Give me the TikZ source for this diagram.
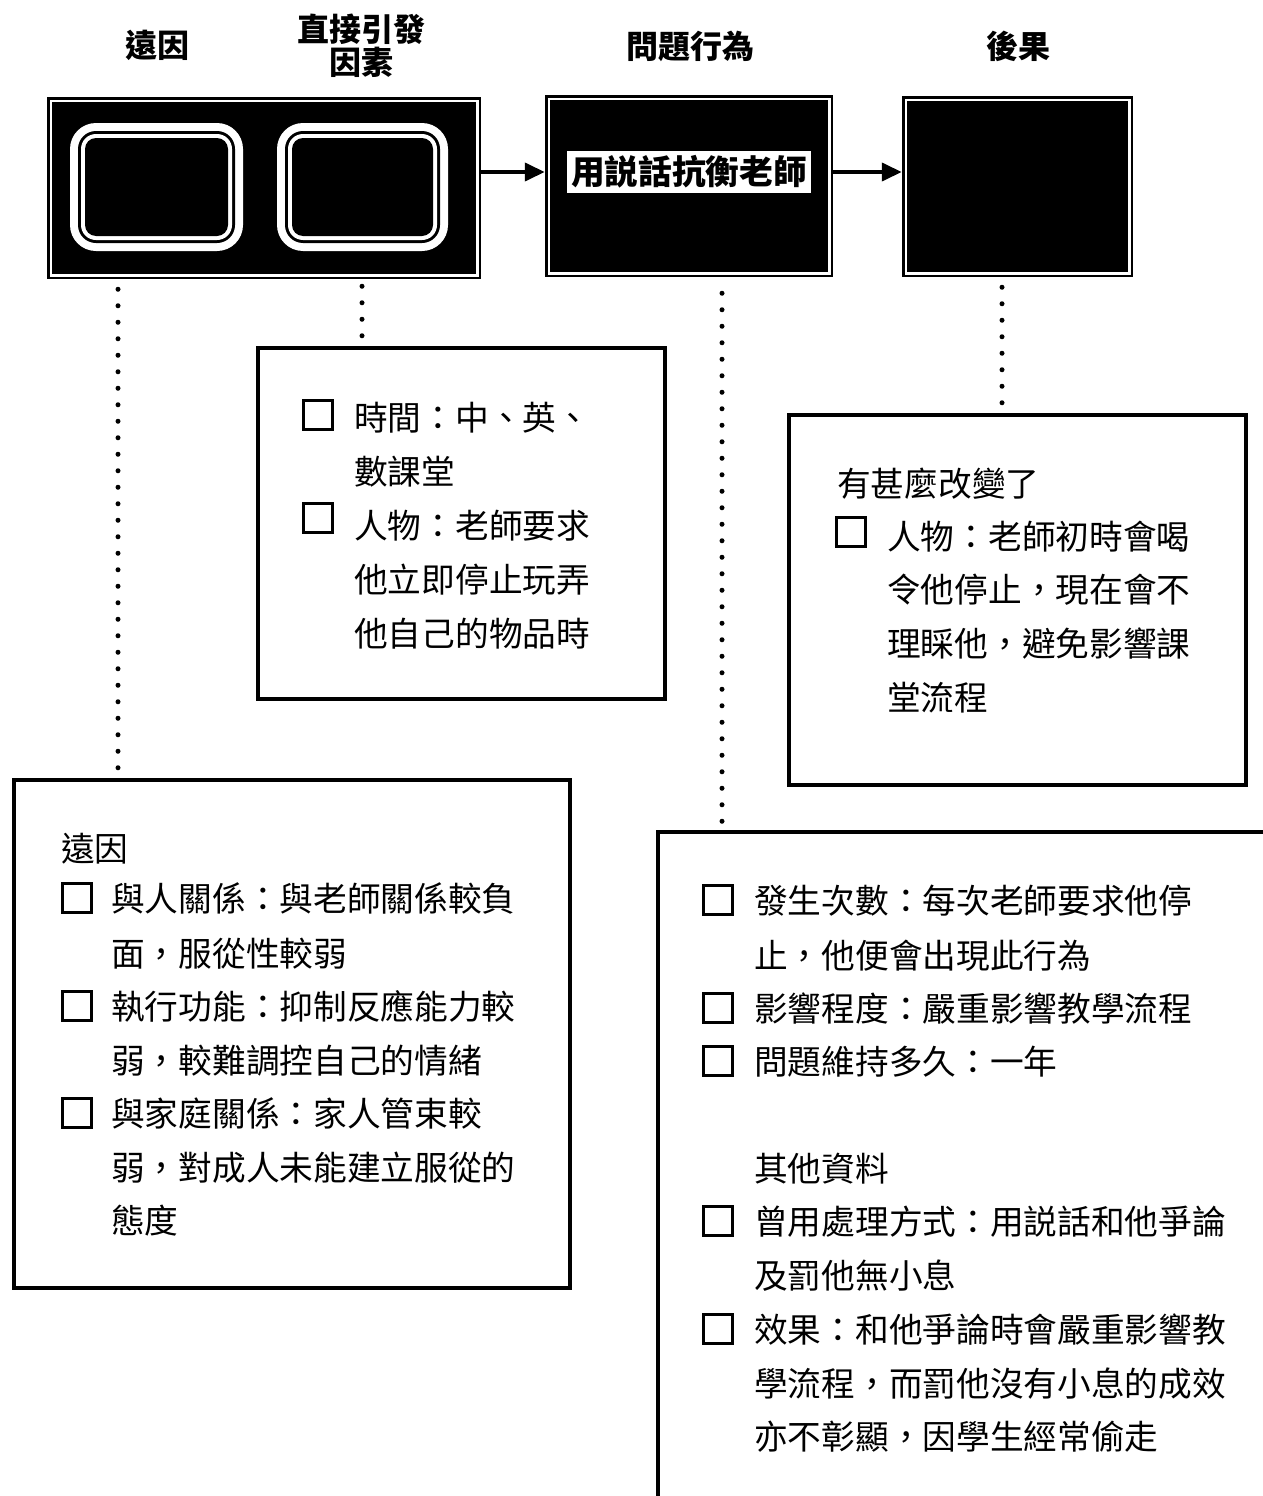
\documentclass[tikz,border=0pt]{standalone}
\usepackage{fontspec}
\newfontfamily\cjk{Noto Sans CJK TC}
\usetikzlibrary{arrows.meta,calc}
\begin{document}
\begin{tikzpicture}[x=1pt,y=-1pt,
  hdr/.style={font=\cjk\bfseries\fontsize{32}{33}\selectfont, align=center, inner sep=0pt},
  topbox/.style={draw=black, fill=black, line width=2.5pt, inner sep=0pt},
  infobox/.style={draw=black, line width=4.5pt, inner sep=0pt},
  txt/.style={font=\cjk\fontsize{33.7}{40}\selectfont, anchor=base west, inner sep=0pt},
  chk/.style={draw=black, line width=3pt, minimum size=29pt, inner sep=0pt},
  dotline/.style={line width=5pt, line cap=round, dash pattern=on 0pt off 16.5pt},
  arr/.style={line width=4pt, -{Triangle[length=20pt,width=18pt]}}
]
\useasboundingbox (0,0) rectangle (1263,1496);
\fill[white] (0,0) rectangle (1263,1496);
\clip (0,0) rectangle (1263,1496);

% headers
\node[hdr] (h1) at (157,45) {遠因};
\node[hdr] (h2) at (361,46) {直接引發\\因素};
\node[hdr] (h3) at (690,46) {問題行為};
\node[hdr] (h4) at (1018,46) {後果};

% top boxes
\node[topbox, minimum width=432pt, minimum height=180pt] (b1) at (264,188) {};
\node[topbox, minimum width=286pt, minimum height=180pt] (b2) at (689,186) {};
\node[topbox, minimum width=229pt, minimum height=179pt] (b3) at (1017.5,186.5) {};
\foreach \b in {b1,b2,b3}
  \draw[white, line width=2.5pt] ($(\b.south west)+(4,-4)$) rectangle ($(\b.north east)+(-4,4)$);

% rings in first box
\foreach \xa/\xb in {70/243, 277/448} {
  \fill[white, rounded corners=26pt] (\xa,123) rectangle (\xb,251);
  \fill[black, rounded corners=18pt] (\xa+8,131) rectangle (\xb-8,243);
  \fill[white, rounded corners=15pt] (\xa+11,134) rectangle (\xb-11,240);
  \fill[black, rounded corners=11pt] (\xa+15,138) rectangle (\xb-15,236);
}

% label in problem box
\node[fill=white, font=\cjk\bfseries\fontsize{33.7}{36}\selectfont, inner xsep=4pt, inner ysep=5pt] (lbl) at (689,172) {用説話抗衡老師};

% arrows
\coordinate (ay) at (0,172);
\draw[arr] (b1.east |- ay) -- (b2.west |- ay);
\draw[arr] (b2.east |- ay) -- (b3.west |- ay);

% info boxes
\node[infobox, minimum width=407pt, minimum height=351pt] (bA) at (461.5,523.5) {};
\node[infobox, minimum width=457pt, minimum height=370pt] (bB) at (1017.5,600) {};
\node[infobox, minimum width=556pt, minimum height=508pt] (bC) at (292,1034) {};
\node[infobox, minimum width=700pt, minimum height=760pt] (bD) at (1008,1212) {};

% dotted connectors
\coordinate (xa) at (118,0);
\coordinate (xb) at (362,0);
\coordinate (xc) at (722,0);
\coordinate (xd) at (1002,0);
\draw[dotline, shorten <=10pt, shorten >=8pt] (b1.south -| xa) -- (bC.north -| xa);
\draw[dotline, shorten <=7pt, shorten >=8pt] (b1.south -| xb) -- (bA.north -| xb);
\draw[dotline, shorten <=16pt, shorten >=7pt] (b2.south -| xc) -- (bD.north -| xc);
\draw[dotline, shorten <=10pt, shorten >=8pt] (b3.south -| xd) -- (bB.north -| xd);

% box A
\node[chk] (ka1) at (318,415) {};
\node[txt] (ta1) at (354,430) {時間：中、英、};
\node[txt] (ta2) at (354,484) {數課堂};
\node[chk] (ka2) at (318,518) {};
\node[txt] (ta3) at (354,538) {人物：老師要求};
\node[txt] (ta4) at (354,592) {他立即停止玩弄};
\node[txt] (ta5) at (354,646) {他自己的物品時};

% box B
\node[txt] (tb0) at (837,496) {有甚麼改變了};
\node[chk] (kb1) at (851,532) {};
\node[txt] (tb1) at (887,549) {人物：老師初時會喝};
\node[txt] (tb2) at (887,602) {令他停止，現在會不};
\node[txt] (tb3) at (887,656) {理睬他，避免影響課};
\node[txt] (tb4) at (887,710) {堂流程};

% box C
\node[txt] (tc0) at (61,861) {遠因};
\node[chk] (kc1) at (77,898) {};
\node[txt] (tc1) at (111,911) {與人關係：與老師關係較負};
\node[txt] (tc2) at (111,966) {面，服從性較弱};
\node[chk] (kc2) at (77,1006) {};
\node[txt] (tc3) at (111,1019) {執行功能：抑制反應能力較};
\node[txt] (tc4) at (111,1073) {弱，較難調控自己的情緒};
\node[chk] (kc3) at (77,1113) {};
\node[txt] (tc5) at (111,1126) {與家庭關係：家人管束較};
\node[txt] (tc6) at (111,1180) {弱，對成人未能建立服從的};
\node[txt] (tc7) at (111,1233) {態度};

% box D
\node[chk] (kd1) at (718,900) {};
\node[txt] (td1) at (754,913) {發生次數：每次老師要求他停};
\node[txt] (td2) at (754,968) {止，他便會出現此行為};
\node[chk] (kd2) at (718,1008) {};
\node[txt] (td3) at (754,1021) {影響程度：嚴重影響教學流程};
\node[chk] (kd3) at (718,1061) {};
\node[txt] (td4) at (754,1074) {問題維持多久：一年};
\node[txt] (td5) at (754,1181) {其他資料};
\node[chk] (kd4) at (718,1221) {};
\node[txt] (td6) at (754,1234) {曾用處理方式：用説話和他爭論};
\node[txt] (td7) at (754,1288) {及罰他無小息};
\node[chk] (kd5) at (718,1329) {};
\node[txt] (td8) at (754,1342) {效果：和他爭論時會嚴重影響教};
\node[txt] (td9) at (754,1396) {學流程，而罰他沒有小息的成效};
\node[txt] (td10) at (754,1449) {亦不彰顯，因學生經常偷走};
\end{tikzpicture}
\end{document}
